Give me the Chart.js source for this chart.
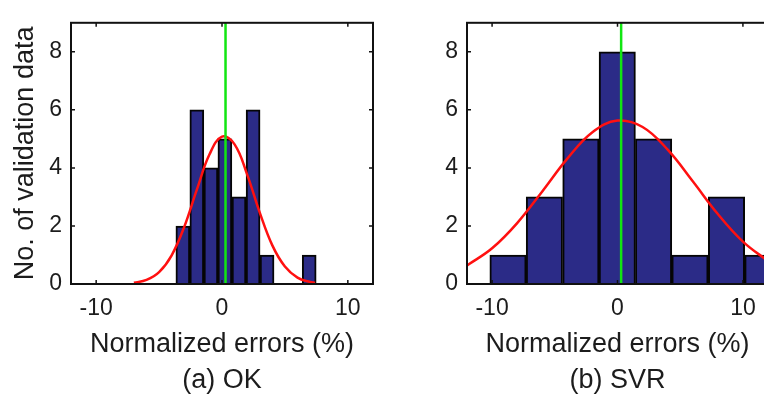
<!DOCTYPE html>
<html>
<head>
<meta charset="utf-8">
<script src="https://cdn.jsdelivr.net/npm/chart.js@4.4.1/dist/chart.umd.min.js"></script>
<style>
  html, body { margin: 0; padding: 0; background: #fff; overflow: hidden; width: 764px; height: 399px; }
  .panel { position: absolute; top: 0; height: 399px; }
  #left { left: 0; width: 382px; }
  #right { left: 382px; width: 408px; }
</style>
</head>
<body>
<div class="panel" id="left"><canvas id="chartOK"></canvas></div>
<div class="panel" id="right"><canvas id="chartSVR"></canvas></div>
<script>
// ---- data ----
const xTicks = [-10, 0, 10];
const yTicks = [0, 2, 4, 6, 8];

// (a) OK
const okBinCenters = [-3.11, -2.00, -0.88, 0.23, 1.35, 2.47, 3.58, 4.70, 5.82, 6.93];
const okCounts = [2, 6, 4, 5, 3, 6, 1, 0, 0, 1];
const okFitX = [-7, -6, -5, -4, -3, -2, -1, 0, 1, 2, 3, 4, 5, 6, 7, 7.4];
const okFitY = [0.04, 0.14, 0.41, 0.99, 1.97, 3.25, 4.46, 5.08, 4.81, 3.77, 2.46, 1.33, 0.60, 0.22, 0.07, 0.04];
const okMean = 0.28;

// (b) SVR
const svrBinCenters = [-8.73, -5.83, -2.92, -0.02, 2.88, 5.78, 8.69, 11.59];
const svrCounts = [1, 3, 5, 8, 5, 1, 3, 1];
const svrFitX = [-12, -10, -8, -6, -4, -2, 0, 2, 4, 6, 8, 10, 12];
const svrFitY = [0.64, 1.23, 2.10, 3.19, 4.32, 5.23, 5.63, 5.41, 4.63, 3.54, 2.41, 1.46, 0.79];
const svrMean = 0.29;

const FONT = "'Liberation Sans', Arial, sans-serif";
const TXT = '#1c1c1c';

// box round the plot + inward tick marks (matlab style)
const boxTicks = {
    id: 'boxTicks',
    afterDatasetsDraw(chart) {
        const { ctx, chartArea: a, scales } = chart;
        ctx.save();
        ctx.strokeStyle = '#111';
        ctx.lineWidth = 1.5;
        ctx.beginPath();
        scales.x.ticks.forEach(t => {
            const px = scales.x.getPixelForValue(t.value);
            ctx.moveTo(px, a.bottom); ctx.lineTo(px, a.bottom - 4);
            ctx.moveTo(px, a.top); ctx.lineTo(px, a.top + 4);
        });
        scales.y.ticks.forEach(t => {
            const py = scales.y.getPixelForValue(t.value);
            ctx.moveTo(a.left, py); ctx.lineTo(a.left + 4, py);
            ctx.moveTo(a.right, py); ctx.lineTo(a.right - 4, py);
        });
        ctx.stroke();
        ctx.lineWidth = 2;
        ctx.strokeRect(a.left, a.top, a.right - a.left, a.bottom - a.top);
        ctx.restore();
    }
};

function makeChart(id, centers, counts, fitX, fitY, mean, caption, yTitle, yWidth, padRight) {
    const ctx = document.getElementById(id).getContext('2d');
    return new Chart(ctx, {
        type: 'bar',
        data: {
            datasets: [
                {
                    type: 'line',
                    data: [{ x: mean, y: 0 }, { x: mean, y: 9 }],
                    borderColor: '#12e612',
                    borderWidth: 2.5,
                    pointRadius: 0,
                    order: 0
                },
                {
                    type: 'line',
                    data: fitX.map((v, i) => ({ x: v, y: fitY[i] })),
                    borderColor: '#ff1010',
                    borderWidth: 2.5,
                    pointRadius: 0,
                    tension: 0.4,
                    order: 1
                },
                {
                    type: 'bar',
                    data: centers.map((v, i) => ({ x: v, y: counts[i] })),
                    backgroundColor: '#2b2b87',
                    borderColor: '#050505',
                    borderWidth: 2,
                    barPercentage: 1,
                    categoryPercentage: 1,
                    clip: 2,
                    order: 2
                }
            ]
        },
        options: {
            responsive: true,
            maintainAspectRatio: false,
            animation: false,
            layout: { padding: { left: 0, right: padRight, top: 12, bottom: 0 } },
            plugins: { legend: { display: false }, tooltip: { enabled: false } },
            scales: {
                x: {
                    type: 'linear',
                    min: -12,
                    max: 12,
                    offset: false,
                    grid: { display: false, drawTicks: false },
                    border: { display: false },
                    afterBuildTicks: s => { s.ticks = xTicks.map(v => ({ value: v })); },
                    afterFit: s => { s.height = 115; },
                    ticks: { padding: 11, color: TXT, font: { family: FONT, size: 23 } },
                    title: {
                        display: true,
                        text: ['Normalized errors (%)', caption],
                        color: TXT,
                        padding: { top: 0, bottom: 0 },
                        font: { family: FONT, size: 27, lineHeight: 1.35 }
                    }
                },
                y: {
                    min: 0,
                    max: 9,
                    grid: { display: false, drawTicks: false },
                    border: { display: false },
                    afterBuildTicks: s => { s.ticks = yTicks.map(v => ({ value: v })); },
                    afterFit: s => { s.width = yWidth; },
                    ticks: { padding: 9, color: TXT, font: { family: FONT, size: 23 } },
                    title: {
                        display: !!yTitle,
                        text: yTitle,
                        color: TXT,
                        padding: { top: 9, bottom: 0 },
                        font: { family: FONT, size: 27, lineHeight: 1.2 }
                    }
                }
            }
        },
        plugins: [boxTicks]
    });
}

makeChart('chartOK', okBinCenters, okCounts, okFitX, okFitY, okMean, '(a) OK', 'No. of validation data', 71, 9);
makeChart('chartSVR', svrBinCenters, svrCounts, svrFitX, svrFitY, svrMean, '(b) SVR', '', 85, 22);
</script>
</body>
</html>
